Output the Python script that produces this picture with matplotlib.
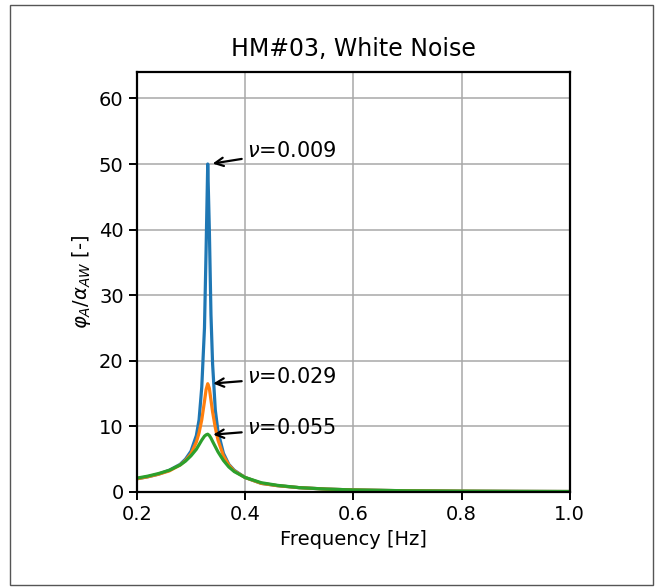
import numpy as np
import matplotlib.pyplot as plt
from matplotlib.patches import Rectangle

# frequency samples [Hz]
freq = [0.20, 0.22, 0.24, 0.26, 0.28, 0.29, 0.30, 0.31, 0.315, 0.32, 0.325,
        0.328, 0.331, 0.334, 0.337, 0.34, 0.345, 0.35, 0.36, 0.37, 0.38,
        0.40, 0.43, 0.46, 0.50, 0.55, 0.60, 0.70, 0.80, 0.90, 1.00]

# nu = 0.009
resp_009 = [2.0, 2.3, 2.7, 3.3, 4.2, 5.0, 6.2, 8.6, 11.0, 16.0, 25.0,
            37.0, 50.0, 40.0, 27.0, 19.5, 12.5, 9.2, 5.9, 4.2, 3.3,
            2.2, 1.3, 0.95, 0.65, 0.43, 0.30, 0.17, 0.11, 0.08, 0.06]
# nu = 0.029
resp_029 = [2.0, 2.3, 2.7, 3.2, 4.1, 4.8, 5.8, 7.6, 9.0, 11.0, 13.8,
            15.6, 16.5, 15.8, 14.0, 12.2, 9.8, 7.9, 5.5, 4.1, 3.2,
            2.2, 1.3, 0.95, 0.65, 0.43, 0.30, 0.17, 0.11, 0.08, 0.06]
# nu = 0.055
resp_055 = [2.1, 2.4, 2.8, 3.3, 4.1, 4.7, 5.5, 6.5, 7.2, 7.9, 8.5,
            8.7, 8.8, 8.6, 8.2, 7.7, 6.9, 6.1, 4.8, 3.8, 3.1,
            2.2, 1.4, 1.0, 0.65, 0.43, 0.30, 0.17, 0.11, 0.08, 0.06]

labels = [r'$\nu$=0.009', r'$\nu$=0.029', r'$\nu$=0.055']
tips = [(0.335, 50.0), (0.336, 16.5), (0.336, 8.7)]
text_pos = [(0.404, 52.0), (0.404, 17.5), (0.404, 9.7)]

fig = plt.figure(figsize=(6.61, 5.87), dpi=100)
ax = fig.add_axes([0.207, 0.162, 0.655, 0.715])

ax.plot(freq, resp_009, color='tab:blue', lw=2.3)
ax.plot(freq, resp_029, color='tab:orange', lw=2.3)
ax.plot(freq, resp_055, color='tab:green', lw=2.3)

for lab, tip, pos in zip(labels, tips, text_pos):
    ax.annotate(lab, xy=tip, xytext=pos, fontsize=15, va='center',
                arrowprops=dict(arrowstyle='->', color='black', lw=1.6))

ax.set_xlim(0.2, 1.0)
ax.set_ylim(0, 64)
ax.set_xticks([0.2, 0.4, 0.6, 0.8, 1.0])
ax.set_yticks([0, 10, 20, 30, 40, 50, 60])
ax.tick_params(labelsize=14, width=1.4, length=6)
for s in ax.spines.values():
    s.set_linewidth(1.6)
ax.grid(True, color='#a8a8a8', lw=1.1)
ax.set_xlabel('Frequency [Hz]', fontsize=14)
ax.set_ylabel(r'$\varphi_A/\alpha_{AW}$ [-]', fontsize=14)
ax.set_title('HM#03, White Noise', fontsize=17, pad=12)

fig.patches.append(Rectangle((10 / 661, 2 / 587), 643 / 661, 580 / 587,
                             transform=fig.transFigure, fill=False,
                             edgecolor='#555555', lw=1))

fig.savefig('out.png', dpi=100)
